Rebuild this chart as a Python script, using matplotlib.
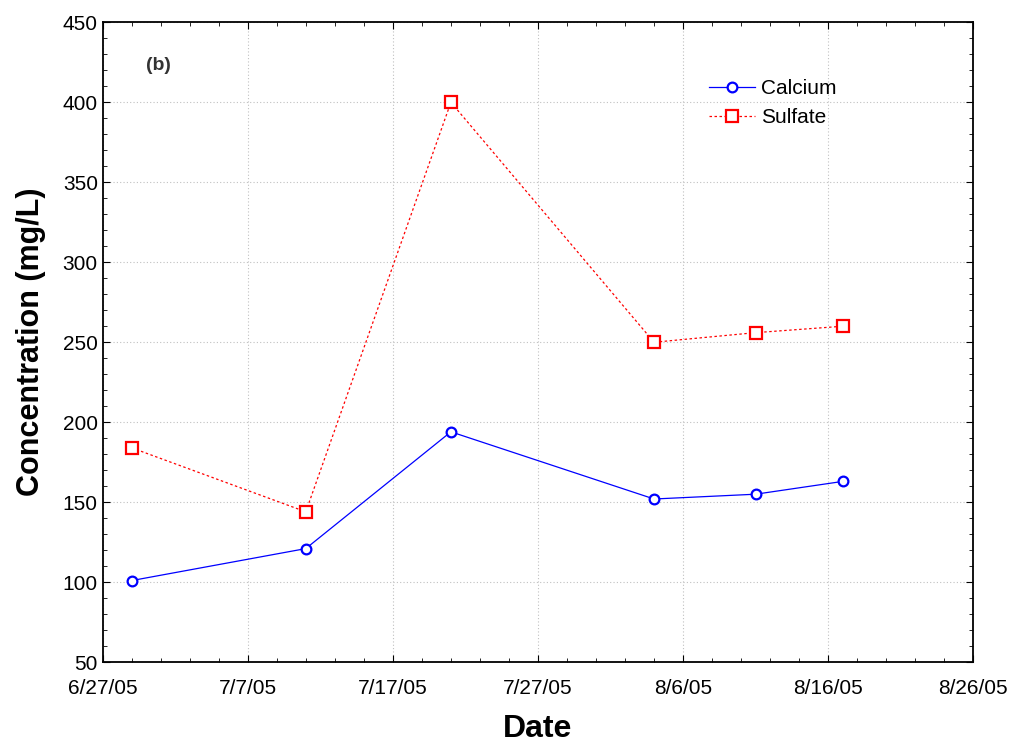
import matplotlib.pyplot as plt
from matplotlib.ticker import MultipleLocator
import datetime as dt

# sampling dates and concentrations (mg/L)
dates = ["2005-06-29", "2005-07-11", "2005-07-21", "2005-08-04", "2005-08-11", "2005-08-17"]
calcium = [101, 121, 194, 152, 155, 163]
sulfate = [184, 144, 400, 250, 256, 260]

days = [dt.datetime.strptime(d, "%Y-%m-%d") for d in dates]

plt.rcParams['font.family'] = ['Liberation Sans', 'DejaVu Sans']

fig = plt.figure(figsize=(10.16, 7.44), dpi=100)
ax = fig.add_axes([0.101, 0.110, 0.857, 0.860])

ax.plot(days, calcium, '-o', color='blue', lw=0.9, ms=7, mfc='white', mew=1.6, label='Calcium')
ax.plot(days, sulfate, '--s', color='red', lw=0.9, ms=8, mfc='white', mew=1.6,
        dashes=(2, 2), label='Sulfate')

start = dt.datetime(2005, 6, 27)
ax.set_xlim(start, dt.datetime(2005, 8, 26))
ax.set_ylim(50, 450)
ticks = [start + dt.timedelta(days=10 * i) for i in range(7)]
ax.set_xticks(ticks)
ax.set_xticklabels([f"{t.month}/{t.day}/05" for t in ticks], fontsize=15)
ax.set_xticks([start + dt.timedelta(days=2 * i) for i in range(31)], minor=True)
ax.yaxis.set_major_locator(MultipleLocator(50))
ax.yaxis.set_minor_locator(MultipleLocator(10))

ax.tick_params(which='both', direction='in', top=True, right=True)
ax.tick_params(axis='y', labelsize=15)
ax.tick_params(which='major', length=5)
ax.tick_params(which='minor', length=3)
ax.tick_params(axis='x', pad=12)
for s in ax.spines.values():
    s.set_linewidth(1.3)
ax.grid(True, which='major', ls=(0, (1, 2)), color='#c0c0c0', lw=0.8)

ax.set_xlabel('Date', fontsize=23, fontweight='bold', labelpad=12)
ax.set_ylabel('Concentration (mg/L)', fontsize=22, fontweight='bold', labelpad=12)
ax.text(0.05, 0.925, '(b)', transform=ax.transAxes, fontsize=14, fontweight='bold', color='#333333')

ax.legend(loc='upper left', bbox_to_anchor=(0.675, 0.94), frameon=False, fontsize=15,
          handlelength=2.2, labelspacing=0.45, handletextpad=0.3)

fig.savefig('out.png')
